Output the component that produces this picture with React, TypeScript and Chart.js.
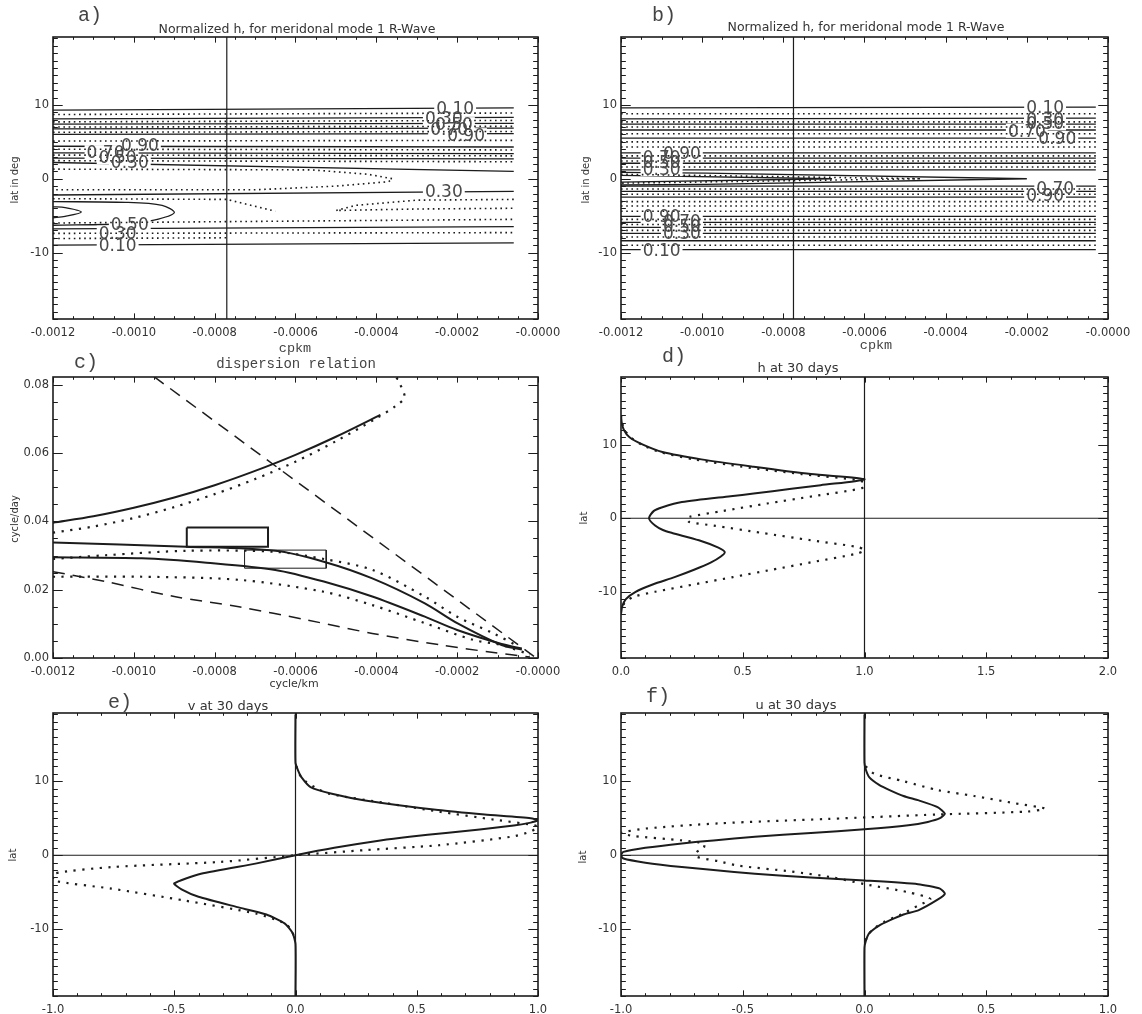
import React, { useEffect, useRef } from 'react';
import { Chart, registerables } from 'chart.js';

Chart.register(...registerables);

type Pt = [number, number];
type Label = { x: number; y: number; t: string };

const FONT = "'DejaVu Sans', 'Liberation Sans', sans-serif";
const MONO = "'Liberation Mono', 'DejaVu Sans Mono', monospace";
Chart.defaults.font.family = FONT;

// ---------------- axes ----------------
const KM_MIN = -0.0012;
const KM_MAX = 0;
const KM_TICKS = [-0.0012, -0.001, -0.0008, -0.0006, -0.0004, -0.0002, 0];
const KM_TICK_LABELS = ['-0.0012', '-0.0010', '-0.0008', '-0.0006', '-0.0004', '-0.0002', '-0.0000'];
const KM_MINOR = 0.00005;

const LAT_MIN = -19;
const LAT_MAX = 19.2;
const LAT_TICKS = [-10, 0, 10];
const LAT_TICK_LABELS = ['-10', '0', '10'];
const LAT_MINOR = 1;

const FREQ_MIN = 0;
const FREQ_MAX = 0.0823;
const FREQ_TICKS = [0, 0.02, 0.04, 0.06, 0.08];
const FREQ_TICK_LABELS = ['0.00', '0.02', '0.04', '0.06', '0.08'];
const FREQ_MINOR = 0.005;

const H_MIN = 0;
const H_MAX = 2;
const H_TICKS = [0, 0.5, 1, 1.5, 2];
const H_TICK_LABELS = ['0.0', '0.5', '1.0', '1.5', '2.0'];
const H_MINOR = 0.1;

const UV_MIN = -1;
const UV_MAX = 1;
const UV_TICKS = [-1, -0.5, 0, 0.5, 1];
const UV_TICK_LABELS = ['-1.0', '-0.5', '0.0', '0.5', '1.0'];
const UV_MINOR = 0.1;

// ---------------- panel a: contours of normalized h ----------------
const A_X_START = -0.0012;
const A_X_END = -0.00006;
const A_REF_X = -0.00077;
// [lat at left edge, lat at right end]
const aSolidLevels: Pt[] = [
  [9.3, 9.6], [8.1, 8.3], [7.4, 7.5], [6.75, 6.85], [6.0, 6.1],
  [4.4, 4.3], [3.5, 3.4], [2.8, 2.7], [2.2, 1.0],
  [-2.2, -1.7], [-6.8, -6.5], [-9.0, -8.7],
];
const aDottedLevels: Pt[] = [
  [8.7, 8.9], [7.7, 7.9], [7.0, 7.1], [6.3, 6.4], [5.1, 5.2],
  [4.0, 3.9], [3.2, 3.1], [2.45, 2.3],
  [-6.0, -5.5], [-7.4, -7.3],
];
const aSolidLobeOuter: Pt[] = [[-0.0012, -3.1], [-0.00102, -3.2], [-0.00093, -3.6], [-0.0009, -4.6], [-0.00095, -5.6], [-0.00102, -6.1], [-0.0012, -6.3]];
const aSolidLobeInner: Pt[] = [[-0.0012, -3.8], [-0.00117, -3.9], [-0.00113, -4.5], [-0.00117, -5.1], [-0.0012, -5.3]];
const aDottedTongue: Pt[] = [[-0.0012, 1.3], [-0.00056, 1.2], [-0.00042, 0.6], [-0.00036, 0.0], [-0.00037, -0.4], [-0.0005, -1.0], [-0.0007, -1.5], [-0.0012, -1.5]];
const aDottedLeft: Pt[] = [[-0.0012, -2.7], [-0.00077, -2.8], [-0.00065, -4.4]];
const aDottedRight: Pt[] = [[-0.00006, -2.8], [-0.0003, -2.9], [-0.00045, -3.6], [-0.0005, -4.3], [-0.0003, -4.1], [-0.00006, -4.0]];
const aDottedShort: Pt[] = [[-0.0012, -8.1], [-0.00077, -8.0]];
const aLabels: Label[] = [
  { x: -0.000205, y: 9.6, t: '0.10' }, { x: -0.000233, y: 8.2, t: '0.30' }, { x: -0.000208, y: 7.4, t: '0.50' },
  { x: -0.00022, y: 6.7, t: '0.70' }, { x: -0.000178, y: 5.9, t: '0.90' },
  { x: -0.000985, y: 4.6, t: '0.90' }, { x: -0.00107, y: 3.6, t: '0.70' }, { x: -0.00104, y: 2.9, t: '0.50' },
  { x: -0.00101, y: 2.3, t: '0.30' }, { x: -0.000233, y: -1.7, t: '0.30' },
  { x: -0.00101, y: -6.1, t: '0.50' }, { x: -0.00104, y: -7.3, t: '0.30' }, { x: -0.00104, y: -9.0, t: '0.10' },
];

// ---------------- panel b ----------------
const B_X_START = -0.0012;
const B_X_END = -0.00003;
const B_REF_X = -0.000775;
const bSolidLevels: Pt[] = [
  [9.6, 9.7], [8.1, 8.2], [7.4, 7.4], [6.6, 6.6], [5.5, 5.5], [3.5, 3.5], [2.8, 2.8], [2.1, 2.1], [1.2, 1.2],
  [-1.0, -1.0], [-1.7, -1.7], [-2.5, -2.5], [-5.1, -5.1], [-5.9, -5.9], [-6.6, -6.6], [-7.4, -7.4], [-8.4, -8.4], [-9.6, -9.6],
];
const bDottedLevels: Pt[] = [
  [8.8, 8.8], [7.7, 7.7], [7.0, 7.0], [6.1, 6.1], [5.0, 5.0], [4.3, 4.3], [3.1, 3.1], [2.4, 2.4], [1.6, 1.6],
  [-1.4, -1.4], [-2.1, -2.1], [-3.1, -3.1], [-3.7, -3.7], [-4.4, -4.4], [-5.5, -5.5], [-6.2, -6.2], [-7.0, -7.0], [-7.9, -7.9], [-9.0, -9.0],
];
const bSolidTongueOuter: Pt[] = [[-0.0012, 0.85], [-0.00099, 0.77], [-0.0002, 0.0], [-0.00099, -0.77], [-0.0012, -0.85]];
const bSolidTongueInner: Pt[] = [[-0.0012, 0.45], [-0.00068, 0.0], [-0.0012, -0.45]];
const bDottedTongue: Pt[] = [[-0.0012, 0.6], [-0.00046, 0.0], [-0.0012, -0.6]];
const bLabels: Label[] = [
  { x: -0.000155, y: 9.7, t: '0.10' }, { x: -0.000155, y: 8.1, t: '0.30' }, { x: -0.000155, y: 7.5, t: '0.50' },
  { x: -0.0002, y: 6.5, t: '0.70' }, { x: -0.000125, y: 5.5, t: '0.90' },
  { x: -0.00105, y: 3.5, t: '0.90' }, { x: -0.0011, y: 3.0, t: '0.70' }, { x: -0.0011, y: 2.2, t: '0.50' }, { x: -0.0011, y: 1.3, t: '0.30' },
  { x: -0.00013, y: -1.2, t: '0.70' }, { x: -0.000155, y: -2.2, t: '0.90' },
  { x: -0.0011, y: -5.1, t: '0.90' }, { x: -0.00105, y: -5.7, t: '0.70' }, { x: -0.00105, y: -6.4, t: '0.50' },
  { x: -0.00105, y: -7.3, t: '0.30' }, { x: -0.0011, y: -9.6, t: '0.10' },
];

// ---------------- panel c: dispersion relation [cycle/km, cycle/day] ----------------
const cUpperSolid: Pt[] = [[-0.0012, 0.0396], [-0.0011, 0.0415], [-0.001, 0.044], [-0.0009, 0.047], [-0.0008, 0.0506], [-0.0007, 0.0548], [-0.0006, 0.0595], [-0.0005, 0.0648], [-0.00039, 0.0712]];
const cUpperDotted: Pt[] = [[-0.0012, 0.0367], [-0.0011, 0.0385], [-0.001, 0.041], [-0.0009, 0.0442], [-0.0008, 0.048], [-0.0007, 0.0524], [-0.0006, 0.0575], [-0.0005, 0.0635], [-0.0004, 0.0702], [-0.00035, 0.074], [-0.00033, 0.0765], [-0.00035, 0.0822]];
const cSteepDashed: Pt[] = [[-0.00095, 0.0824], [-0.00001, 0.0005]];
const cMidSolid: Pt[] = [[-0.0012, 0.0338], [-0.00087, 0.0326], [-0.00065, 0.0314], [-0.00053, 0.0282], [-0.00041, 0.0233], [-0.00028, 0.016], [-0.0002, 0.0102], [-0.00009, 0.0038], [-0.00004, 0.0025]];
const cLowSolid: Pt[] = [[-0.0012, 0.0295], [-0.00098, 0.0292], [-0.00082, 0.0279], [-0.00065, 0.0258], [-0.00053, 0.0224], [-0.00041, 0.018], [-0.00028, 0.0121], [-0.0002, 0.0082], [-0.00009, 0.0041], [-0.00004, 0.0028]];
const cMidDotted: Pt[] = [[-0.0012, 0.029], [-0.00107, 0.0301], [-0.00087, 0.0314], [-0.00065, 0.0311], [-0.00053, 0.029], [-0.00041, 0.0258], [-0.00028, 0.018], [-0.0002, 0.0121], [-0.00011, 0.0072], [-0.00005, 0.0035]];
const cLowDotted: Pt[] = [[-0.0012, 0.0238], [-0.00098, 0.0238], [-0.00074, 0.0229], [-0.00053, 0.0194], [-0.00041, 0.0155], [-0.00028, 0.0102], [-0.00016, 0.0053], [-0.00009, 0.0038], [-0.00002, 0.001]];
const cLowDashed: Pt[] = [[-0.0012, 0.0253], [-0.00107, 0.0224], [-0.0009, 0.018], [-0.00074, 0.015], [-0.00057, 0.0111], [-0.00041, 0.0072], [-0.00024, 0.0038], [-0.00011, 0.0016], [-0.00002, 0.0003]];
const cBoxUpper: Pt[] = [[-0.000869, 0.0382], [-0.000668, 0.0382], [-0.000668, 0.0326], [-0.000869, 0.0326], [-0.000869, 0.0382]];
const cBoxLower: Pt[] = [[-0.000726, 0.0316], [-0.000524, 0.0316], [-0.000524, 0.0263], [-0.000726, 0.0263], [-0.000726, 0.0316]];

// ---------------- panels d, e, f: profiles [value, lat] ----------------
const D_REF_X = 1;
const ZERO_LAT = 0;
const dSolid: Pt[] = [[0, 14], [0.003, 13], [0.012, 12], [0.035, 11], [0.09, 10], [0.17, 9], [0.33, 8], [0.545, 7], [0.78, 6], [1.0, 5.3], [0.82, 4.5], [0.7, 4], [0.545, 3.35], [0.45, 3], [0.25, 2.2], [0.17, 1.5], [0.135, 1], [0.115, 0], [0.14, -1], [0.172, -1.6], [0.21, -2], [0.32, -3], [0.4, -4], [0.426, -4.6], [0.41, -5.2], [0.37, -6], [0.3, -7], [0.22, -8], [0.13, -9], [0.06, -10], [0.02, -11], [0.005, -12], [0, -13]];
const dDotted: Pt[] = [[0, 14], [0.004, 13], [0.015, 12], [0.04, 11], [0.085, 10], [0.16, 9], [0.3, 8], [0.5, 7], [0.74, 6], [0.97, 5.2], [1.0, 4.8], [0.99, 4.1], [0.79, 3], [0.6, 2], [0.42, 1], [0.28, 0.2], [0.27, 0], [0.28, -0.5], [0.38, -1], [0.58, -2], [0.78, -3], [0.97, -3.9], [1.0, -4.3], [0.97, -4.8], [0.78, -6], [0.62, -7], [0.46, -8], [0.3, -9], [0.14, -10], [0.05, -10.7], [0.015, -11.5], [0, -12.5]];

const UV_REF_X = 0;
const eSolid: Pt[] = [[0, 19], [0, 12.5], [0.01, 11.5], [0.025, 10.5], [0.062, 9.2], [0.15, 8.3], [0.287, 7.4], [0.588, 6.1], [0.78, 5.5], [0.97, 5.0], [1.0, 4.7], [0.97, 4.4], [0.9, 4], [0.62, 3], [0.47, 2.5], [0.35, 2], [0.16, 1], [0, 0], [-0.16, -1.1], [-0.39, -2.5], [-0.5, -3.8], [-0.47, -4.6], [-0.4, -5.6], [-0.24, -7], [-0.12, -8], [-0.045, -9.2], [-0.012, -10.5], [0, -12], [0, -19]];
const eDotted: Pt[] = [[0.004, 12], [0.015, 11], [0.04, 10], [0.09, 9], [0.137, 8.3], [0.38, 7], [0.588, 5.9], [0.82, 4.8], [1.0, 3.9], [0.97, 3.2], [0.89, 2.5], [0.59, 1.35], [0.29, 0.7], [0, 0], [-0.31, -0.9], [-0.76, -1.6], [-1.0, -2.5], [-1.0, -3.4], [-0.76, -4.5], [-0.46, -6.1], [-0.16, -7.9], [-0.043, -9.2], [-0.02, -10], [-0.005, -11]];

const fSolid: Pt[] = [[0, 19], [0, 12.5], [0.006, 11.5], [0.02, 10.5], [0.06, 9.5], [0.103, 8.8], [0.16, 8], [0.223, 7.4], [0.3, 6.5], [0.33, 5.6], [0.31, 5], [0.26, 4.5], [0.18, 4.05], [0, 3.5], [-0.22, 3], [-0.45, 2.5], [-0.62, 2], [-0.75, 1.6], [-0.9, 1], [-0.99, 0.45], [-1.0, 0], [-0.99, -0.45], [-0.9, -1], [-0.75, -1.6], [-0.62, -2], [-0.45, -2.5], [-0.22, -3], [0, -3.4], [0.22, -3.9], [0.31, -4.5], [0.33, -5.2], [0.3, -6], [0.223, -7.4], [0.16, -8], [0.103, -8.8], [0.06, -9.5], [0.02, -10.5], [0.006, -11.5], [0, -12.5], [0, -19]];
const fDotted: Pt[] = [[0.005, 12], [0.04, 11], [0.16, 10], [0.3, 8.8], [0.45, 8], [0.62, 7], [0.74, 6.3], [0.67, 5.9], [0.3, 5.5], [-0.15, 4.9], [-0.6, 4.3], [-0.9, 3.6], [-1.0, 3.0], [-0.95, 2.6], [-0.75, 2.0], [-0.66, 1.6], [-0.66, 1.0], [-0.69, 0.4], [-0.69, -0.2], [-0.6, -0.8], [-0.52, -1.4], [-0.3, -2.2], [-0.13, -3], [0, -3.9], [0.18, -5], [0.27, -5.9], [0.22, -6.8], [0.15, -8], [0.08, -9], [0.035, -10], [0.01, -11], [0.003, -12]];

// ---------------- styling ----------------
const INK = '#1c1c1c';
const STYLES: Record<string, { w: number; dash: number[] }> = {
  contour: { w: 1.3, dash: [] },
  contourDot: { w: 1.6, dash: [1.6, 3.6] },
  curve: { w: 2, dash: [] },
  curveDot: { w: 2.2, dash: [2.2, 6.5] },
  dashed: { w: 1.5, dash: [12, 8] },
  ref: { w: 1.2, dash: [] },
  box: { w: 2, dash: [] },
  boxThin: { w: 1, dash: [] },
};

function line(pts: Pt[], style: string, tension = 0): any {
  const s = STYLES[style];
  return {
    data: pts.map(([x, y]) => ({ x, y })),
    showLine: true,
    pointRadius: 0,
    pointHoverRadius: 0,
    borderColor: INK,
    borderWidth: s.w,
    borderDash: s.dash,
    borderCapStyle: 'butt',
    tension,
    fill: false,
    isDotted: style.endsWith('Dot'),
  };
}
function levels(levs: Pt[], x0: number, x1: number, style: string) {
  return levs.map(([a, b]) => line([[x0, a], [x1, b]], style));
}

interface Axis { min: number; max: number; ticks: number[]; labels: string[]; minor: number }
interface Panel { key: string; box: [number, number, number, number]; x: Axis; y: Axis; datasets: any[]; labels?: Label[] }

const KM_AXIS: Axis = { min: KM_MIN, max: KM_MAX, ticks: KM_TICKS, labels: KM_TICK_LABELS, minor: KM_MINOR };
const LAT_AXIS: Axis = { min: LAT_MIN, max: LAT_MAX, ticks: LAT_TICKS, labels: LAT_TICK_LABELS, minor: LAT_MINOR };

const PANELS: Panel[] = [
  {
    key: 'a', box: [53, 37, 538, 319], x: KM_AXIS, y: LAT_AXIS, labels: aLabels,
    datasets: [
      line([[A_REF_X, LAT_MIN], [A_REF_X, LAT_MAX]], 'ref'),
      ...levels(aDottedLevels, A_X_START, A_X_END, 'contourDot'),
      line(aDottedTongue, 'contourDot'), line(aDottedLeft, 'contourDot'), line(aDottedRight, 'contourDot'), line(aDottedShort, 'contourDot'),
      ...levels(aSolidLevels, A_X_START, A_X_END, 'contour'),
      line(aSolidLobeOuter, 'contour', 0.3), line(aSolidLobeInner, 'contour', 0.3),
    ],
  },
  {
    key: 'b', box: [621, 37, 1108, 319], x: KM_AXIS, y: LAT_AXIS, labels: bLabels,
    datasets: [
      line([[B_REF_X, LAT_MIN], [B_REF_X, LAT_MAX]], 'ref'),
      ...levels(bDottedLevels, B_X_START, B_X_END, 'contourDot'),
      line(bDottedTongue, 'contourDot'),
      ...levels(bSolidLevels, B_X_START, B_X_END, 'contour'),
      line(bSolidTongueOuter, 'contour'), line(bSolidTongueInner, 'contour'),
    ],
  },
  {
    key: 'c', box: [53, 377, 538, 658], x: KM_AXIS,
    y: { min: FREQ_MIN, max: FREQ_MAX, ticks: FREQ_TICKS, labels: FREQ_TICK_LABELS, minor: FREQ_MINOR },
    datasets: [
      line(cUpperDotted, 'curveDot', 0.3), line(cMidDotted, 'curveDot', 0.3), line(cLowDotted, 'curveDot', 0.3),
      line(cUpperSolid, 'curve', 0.3), line(cMidSolid, 'curve', 0.3), line(cLowSolid, 'curve', 0.3),
      line(cSteepDashed, 'dashed'), line(cLowDashed, 'dashed', 0.3),
      line(cBoxUpper, 'box'), line(cBoxLower, 'boxThin'),
    ],
  },
  {
    key: 'd', box: [621, 377, 1108, 658], x: { min: H_MIN, max: H_MAX, ticks: H_TICKS, labels: H_TICK_LABELS, minor: H_MINOR }, y: LAT_AXIS,
    datasets: [
      line([[D_REF_X, LAT_MIN], [D_REF_X, LAT_MAX]], 'ref'),
      line([[H_MIN, ZERO_LAT], [H_MAX, ZERO_LAT]], 'ref'),
      line(dDotted, 'curveDot', 0.25), line(dSolid, 'curve', 0.25),
    ],
  },
  {
    key: 'e', box: [53, 713, 538, 996], x: { min: UV_MIN, max: UV_MAX, ticks: UV_TICKS, labels: UV_TICK_LABELS, minor: UV_MINOR }, y: LAT_AXIS,
    datasets: [
      line([[UV_REF_X, LAT_MIN], [UV_REF_X, LAT_MAX]], 'ref'),
      line([[UV_MIN, ZERO_LAT], [UV_MAX, ZERO_LAT]], 'ref'),
      line(eDotted, 'curveDot', 0.25), line(eSolid, 'curve', 0.2),
    ],
  },
  {
    key: 'f', box: [621, 713, 1108, 996], x: { min: UV_MIN, max: UV_MAX, ticks: UV_TICKS, labels: UV_TICK_LABELS, minor: UV_MINOR }, y: LAT_AXIS,
    datasets: [
      line([[UV_REF_X, LAT_MIN], [UV_REF_X, LAT_MAX]], 'ref'),
      line([[UV_MIN, ZERO_LAT], [UV_MAX, ZERO_LAT]], 'ref'),
      line(fDotted, 'curveDot', 0.25), line(fSolid, 'curve', 0.2),
    ],
  },
];

const PAD_L = 50, PAD_T = 14, PAD_R = 40, PAD_B = 30;
const LABEL_FONT = `17px ${FONT}`;

function minorValues(ax: Axis) {
  const out: { v: number; major: boolean }[] = [];
  const i0 = Math.ceil(ax.min / ax.minor - 1e-6);
  const i1 = Math.floor(ax.max / ax.minor + 1e-6);
  for (let i = i0; i <= i1; i++) {
    const v = i * ax.minor;
    const major = ax.ticks.some((t) => Math.abs(t - v) < ax.minor * 1e-3);
    out.push({ v, major });
  }
  return out;
}

function idlPlugin(p: Panel) {
  return {
    id: 'idlFrame',
    beforeDatasetsDraw(chart: any) { chart.$maskDone = false; },
    beforeDatasetDraw(chart: any, args: any) {
      const d: any = chart.data.datasets[args.index];
      if (!p.labels || chart.$maskDone || !d.isDotted) return;
      chart.$maskDone = true;
      const { ctx } = chart;
      const xs = chart.scales.x, ys = chart.scales.y;
      ctx.save();
      ctx.font = LABEL_FONT;
      ctx.fillStyle = '#ffffff';
      for (const l of p.labels) {
        const px = xs.getPixelForValue(l.x), py = ys.getPixelForValue(l.y);
        const w = ctx.measureText(l.t).width + 4;
        ctx.fillRect(px - w / 2, py - 7, w, 14);
      }
      ctx.restore();
    },
    afterDatasetsDraw(chart: any) {
      const { ctx, chartArea: a } = chart;
      const xs = chart.scales.x, ys = chart.scales.y;
      ctx.save();
      if (p.labels) {
        ctx.font = LABEL_FONT;
        ctx.fillStyle = '#4a4a4a';
        ctx.textAlign = 'center';
        ctx.textBaseline = 'alphabetic';
        for (const l of p.labels) {
          ctx.fillText(l.t, xs.getPixelForValue(l.x), ys.getPixelForValue(l.y) + 6);
        }
      }
      const w = a.right - a.left, h = a.bottom - a.top;
      const xMaj = h * 0.02, yMaj = w * 0.02;
      ctx.strokeStyle = INK;
      ctx.lineWidth = 1;
      ctx.beginPath();
      for (const { v, major } of minorValues(p.x)) {
        const px = Math.round(xs.getPixelForValue(v)) + 0.5;
        const len = major ? xMaj : xMaj / 2;
        ctx.moveTo(px, a.bottom); ctx.lineTo(px, a.bottom - len);
        ctx.moveTo(px, a.top); ctx.lineTo(px, a.top + len);
      }
      for (const { v, major } of minorValues(p.y)) {
        const py = Math.round(ys.getPixelForValue(v)) + 0.5;
        const len = major ? yMaj : yMaj / 2;
        ctx.moveTo(a.left, py); ctx.lineTo(a.left + len, py);
        ctx.moveTo(a.right, py); ctx.lineTo(a.right - len, py);
      }
      ctx.stroke();
      ctx.lineWidth = 1.6;
      ctx.strokeRect(a.left, a.top, w, h);
      ctx.restore();
    },
  };
}

function axisOpts(ax: Axis, horizontal: boolean): any {
  return {
    type: 'linear',
    min: ax.min,
    max: ax.max,
    afterBuildTicks: (s: any) => { s.ticks = ax.ticks.map((v) => ({ value: v })); },
    afterFit: (s: any) => { if (horizontal) s.height = PAD_B; else s.width = PAD_L; },
    grid: { display: false, drawTicks: false },
    border: { display: false },
    ticks: {
      autoSkip: false,
      maxRotation: 0,
      minRotation: 0,
      padding: horizontal ? 7 : 4,
      color: '#333',
      font: { size: 11.5, family: FONT },
      callback: (_v: any, i: number) => ax.labels[i],
    },
  };
}

function ChartPanel({ p }: { p: Panel }) {
  const ref = useRef<HTMLCanvasElement>(null);
  const [l, t, r, b] = p.box;
  const W = r - l + PAD_L + PAD_R;
  const H = b - t + PAD_T + PAD_B;
  useEffect(() => {
    const chart = new Chart(ref.current as HTMLCanvasElement, {
      type: 'scatter',
      data: { datasets: p.datasets },
      options: {
        responsive: false,
        animation: false,
        events: [],
        devicePixelRatio: 1,
        layout: { padding: { left: 0, top: PAD_T, right: PAD_R, bottom: 0 } },
        plugins: { legend: { display: false }, tooltip: { enabled: false }, title: { display: false } },
        scales: { x: axisOpts(p.x, true), y: axisOpts(p.y, false) },
      } as any,
      plugins: [idlPlugin(p)],
    });
    return () => chart.destroy();
  }, []);
  return (
    <canvas
      ref={ref}
      width={W}
      height={H}
      style={{ position: 'absolute', left: l - PAD_L, top: t - PAD_T, width: W, height: H, display: 'block' }}
    />
  );
}

const TEXTS = [
  { x: 90, y: 16, t: 'a)', f: MONO, s: 20, c: '#444' },
  { x: 664, y: 16, t: 'b)', f: MONO, s: 20, c: '#444' },
  { x: 86, y: 363, t: 'c)', f: MONO, s: 20, c: '#444' },
  { x: 674, y: 357, t: 'd)', f: MONO, s: 20, c: '#444' },
  { x: 120, y: 703, t: 'e)', f: MONO, s: 20, c: '#444' },
  { x: 658, y: 697, t: 'f)', f: MONO, s: 20, c: '#444' },
  { x: 297, y: 29, t: 'Normalized h, for meridonal mode 1 R-Wave', f: FONT, s: 12.5, c: '#333' },
  { x: 866, y: 27, t: 'Normalized h, for meridonal mode 1 R-Wave', f: FONT, s: 12.5, c: '#333' },
  { x: 295, y: 349, t: 'cpkm', f: MONO, s: 13.5, c: '#444' },
  { x: 876, y: 346, t: 'cpkm', f: MONO, s: 13.5, c: '#444' },
  { x: 296, y: 364, t: 'dispersion relation', f: MONO, s: 14, c: '#444' },
  { x: 798, y: 367, t: 'h at 30 days', f: FONT, s: 13, c: '#333' },
  { x: 294, y: 683, t: 'cycle/km', f: FONT, s: 11, c: '#333' },
  { x: 228, y: 705, t: 'v at 30 days', f: FONT, s: 13, c: '#333' },
  { x: 796, y: 704, t: 'u at 30 days', f: FONT, s: 13, c: '#333' },
  { x: 15, y: 180, t: 'lat in deg', f: FONT, s: 10, c: '#333', rot: true },
  { x: 586, y: 180, t: 'lat in deg', f: FONT, s: 10, c: '#333', rot: true },
  { x: 15, y: 519, t: 'cycle/day', f: FONT, s: 10, c: '#333', rot: true },
  { x: 584, y: 518, t: 'lat', f: FONT, s: 10, c: '#333', rot: true },
  { x: 13, y: 855, t: 'lat', f: FONT, s: 10, c: '#333', rot: true },
  { x: 583, y: 857, t: 'lat', f: FONT, s: 10, c: '#333', rot: true },
];

export default function App() {
  return (
    <div style={{ position: 'absolute', left: 0, top: 0, width: 1142, height: 1014, background: '#fff', overflow: 'hidden' }}>
      {PANELS.map((p) => <ChartPanel key={p.key} p={p} />)}
      {TEXTS.map((tx, i) => (
        <div
          key={i}
          style={{
            position: 'absolute', left: tx.x, top: tx.y,
            transform: `translate(-50%, -50%)${(tx as any).rot ? ' rotate(-90deg)' : ''}`,
            font: `${tx.s}px ${tx.f}`, color: tx.c, whiteSpace: 'nowrap', lineHeight: 1,
          }}
        >
          {tx.t}
        </div>
      ))}
    </div>
  );
}
